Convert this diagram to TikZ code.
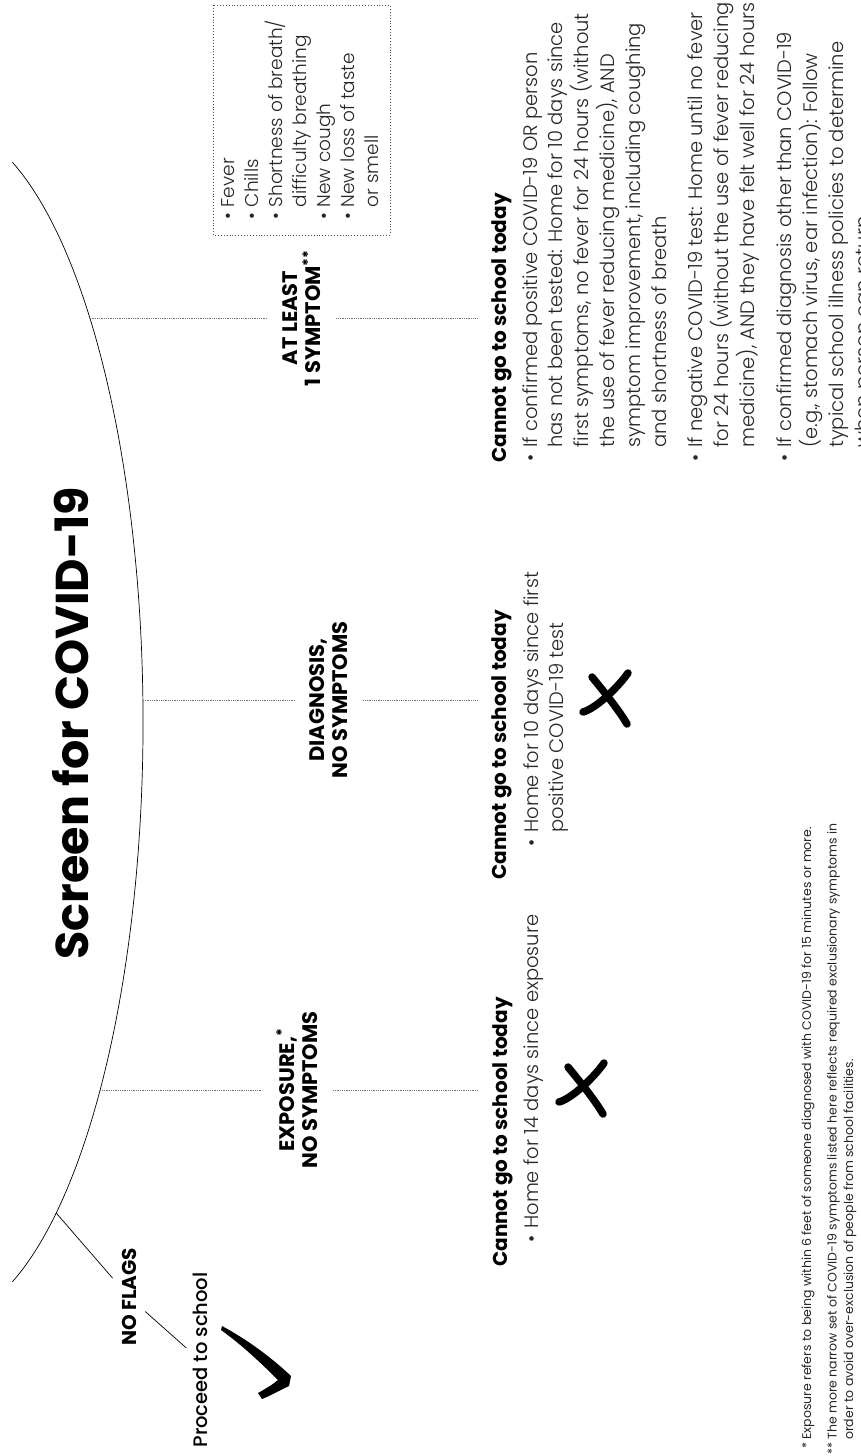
\documentclass[tikz,border=0pt]{standalone}
\usepackage{fontspec}
\setmainfont{Poppins}
\newfontfamily\lightfont{Poppins Light}
\newfontfamily\mediumfont{Poppins Medium}
\begin{document}
\begin{tikzpicture}[x=1pt,y=1pt,
  vtext/.style={rotate=90, inner sep=0pt},
  titlestyle/.style={vtext, anchor=base, font=\bfseries\fontsize{46}{50}\selectfont},
  branchlbl/.style={rotate=90, align=center, inner xsep=2pt, inner ysep=15pt,
     font=\bfseries\fontsize{21}{23}\selectfont},
  hdr/.style={vtext, anchor=base west, font=\bfseries\fontsize{20}{24}\selectfont},
  bodytext/.style={vtext, anchor=base west, text=black!85,
     font=\lightfont\fontsize{19.5}{25.8}\selectfont},
  symptext/.style={rotate=90, draw=black!70, dotted, line width=0.9pt,
     minimum width=230pt, minimum height=177pt, inner sep=0pt, text=black!85,
     font=\lightfont\fontsize{18.5}{23.8}\selectfont},
  foottext/.style={vtext, anchor=base west, text=black!85,
     font=\fontsize{12.5}{16.5}\selectfont},
  guide/.style={densely dotted, line width=0.8pt, black!55},
  solidline/.style={line width=0.7pt, black},
  xstroke/.style={line width=7.5pt, line cap=round, black},
  xmark/.pic={
    \draw[xstroke] (-15,23) .. controls (-6,12) and (12,-10) .. (20,-24);
    \draw[xstroke] (21,27) .. controls (12,14) and (-10,-8) .. (-24,-12);
  }
]
\useasboundingbox (0,0) rectangle (860,-1456);
\fill[white] (0,0) rectangle (860,-1456);

% main arc
\draw[solidline] ([shift={(-61,-722)}]68.9:204 and 600)
  arc[start angle=68.9, end angle=-68.9, x radius=204, y radius=600];
\coordinate (aA) at (89.8,-318);
\coordinate (aD) at (142.9,-700);
\coordinate (aE) at (100.1,-1090);
\coordinate (aN) at (56.2,-1213);

% title
\node[titlestyle] (title) at (88,-723) {Screen for COVID-19};

% no flags
\node[rotate=90, anchor=base, inner sep=9pt, font=\bfseries\fontsize{20}{24}\selectfont] (nfl) at (136,-1297) {NO FLAGS};
\node[rotate=90, anchor=base, inner sep=6pt, font=\mediumfont\fontsize{19.5}{24}\selectfont] (pts) at (207,-1360) {Proceed to school};
\draw[solidline] (aN) -- (nfl);
\draw[solidline] (nfl) -- (pts);
\fill (222,-1326) .. controls (248,-1340) and (272,-1358) .. (291,-1376)
  -- (289,-1386) .. controls (280,-1390) and (270,-1396) .. (262,-1399)
  -- (258,-1393) .. controls (265,-1389) and (272,-1385) .. (278,-1380)
  .. controls (262,-1364) and (242,-1345) .. (221,-1330) -- cycle;

% branch labels
\node[branchlbl] (lblE) at (297,-1090) {EXPOSURE,\textsuperscript{*}\\NO SYMPTOMS};
\node[branchlbl] (lblD) at (329,-700) {DIAGNOSIS,\\NO SYMPTOMS};
\node[branchlbl] (lblA) at (302,-318) {AT LEAST\\1 SYMPTOM\textsuperscript{**}};
\coordinate (eE) at (477,-1090);
\coordinate (eD) at (477,-700);
\coordinate (eA) at (477,-318);
\draw[guide] (aE) -- (lblE);
\draw[guide] (lblE) -- (eE);
\draw[guide] (aD) -- (lblD);
\draw[guide] (lblD) -- (eD);
\draw[guide] (aA) -- (lblA);
\draw[guide] (lblA) -- (eA);

% symptom box
\node[symptext] (symp) at (301.5,-120) {\begin{tabular}{@{}l@{\hspace{6pt}}l@{}}
\textbullet & Fever\\
\textbullet & Chills\\
\textbullet & Shortness of breath/\\
 & difficulty breathing\\
\textbullet & New cough\\
\textbullet & New loss of taste\\
 & or smell
\end{tabular}};

% headers
\node[hdr] (hE) at (507,-1267) {Cannot go to school today};
\node[hdr] (hD) at (506,-880) {Cannot go to school today};
\node[hdr] (hA) at (506,-463) {Cannot go to school today};

% bodies
\node[bodytext] (bE) at (538,-1243) {\begin{tabular}[t]{@{}l@{\hspace{7pt}}l@{}}
\textbullet & Home for 14 days since exposure
\end{tabular}};
\node[bodytext] (bD) at (538,-847) {\begin{tabular}[t]{@{}l@{\hspace{7pt}}l@{}}
\textbullet & Home for 10 days since first\\
 & positive COVID-19 test
\end{tabular}};
\node[bodytext] (bA) at (537,-462) {\begin{tabular}[t]{@{}l@{\hspace{7pt}}l@{}}
\textbullet & If confirmed positive COVID-19 OR person\\
 & has not been tested: Home for 10 days since\\
 & first symptoms, no fever for 24 hours (without\\
 & the use of fever reducing medicine), AND\\
 & symptom improvement, including coughing\\
 & and shortness of breath\\[10pt]
\textbullet & If negative COVID-19 test: Home until no fever\\
 & for 24 hours (without the use of fever reducing\\
 & medicine), AND they have felt well for 24 hours\\[12pt]
\textbullet & If confirmed diagnosis other than COVID-19\\
 & (e.g., stomach virus, ear infection): Follow\\
 & typical school illness policies to determine\\
 & when person can return.
\end{tabular}};

% x marks
\pic at (607,-700) {xmark};
\pic at (583,-1090) {xmark};

% footnotes
\node[foottext] (fn) at (811,-1455) {\begin{tabular}[t]{@{}r@{\hspace{3pt}}l@{}}
* & Exposure refers to being within 6 feet of someone diagnosed with COVID-19 for 15 minutes or more.\\[9pt]
** & The more narrow set of COVID-19 symptoms listed here reflects required exclusionary symptoms in\\
 & order to avoid over-exclusion of people from school facilities.
\end{tabular}};
\end{tikzpicture}
\end{document}
